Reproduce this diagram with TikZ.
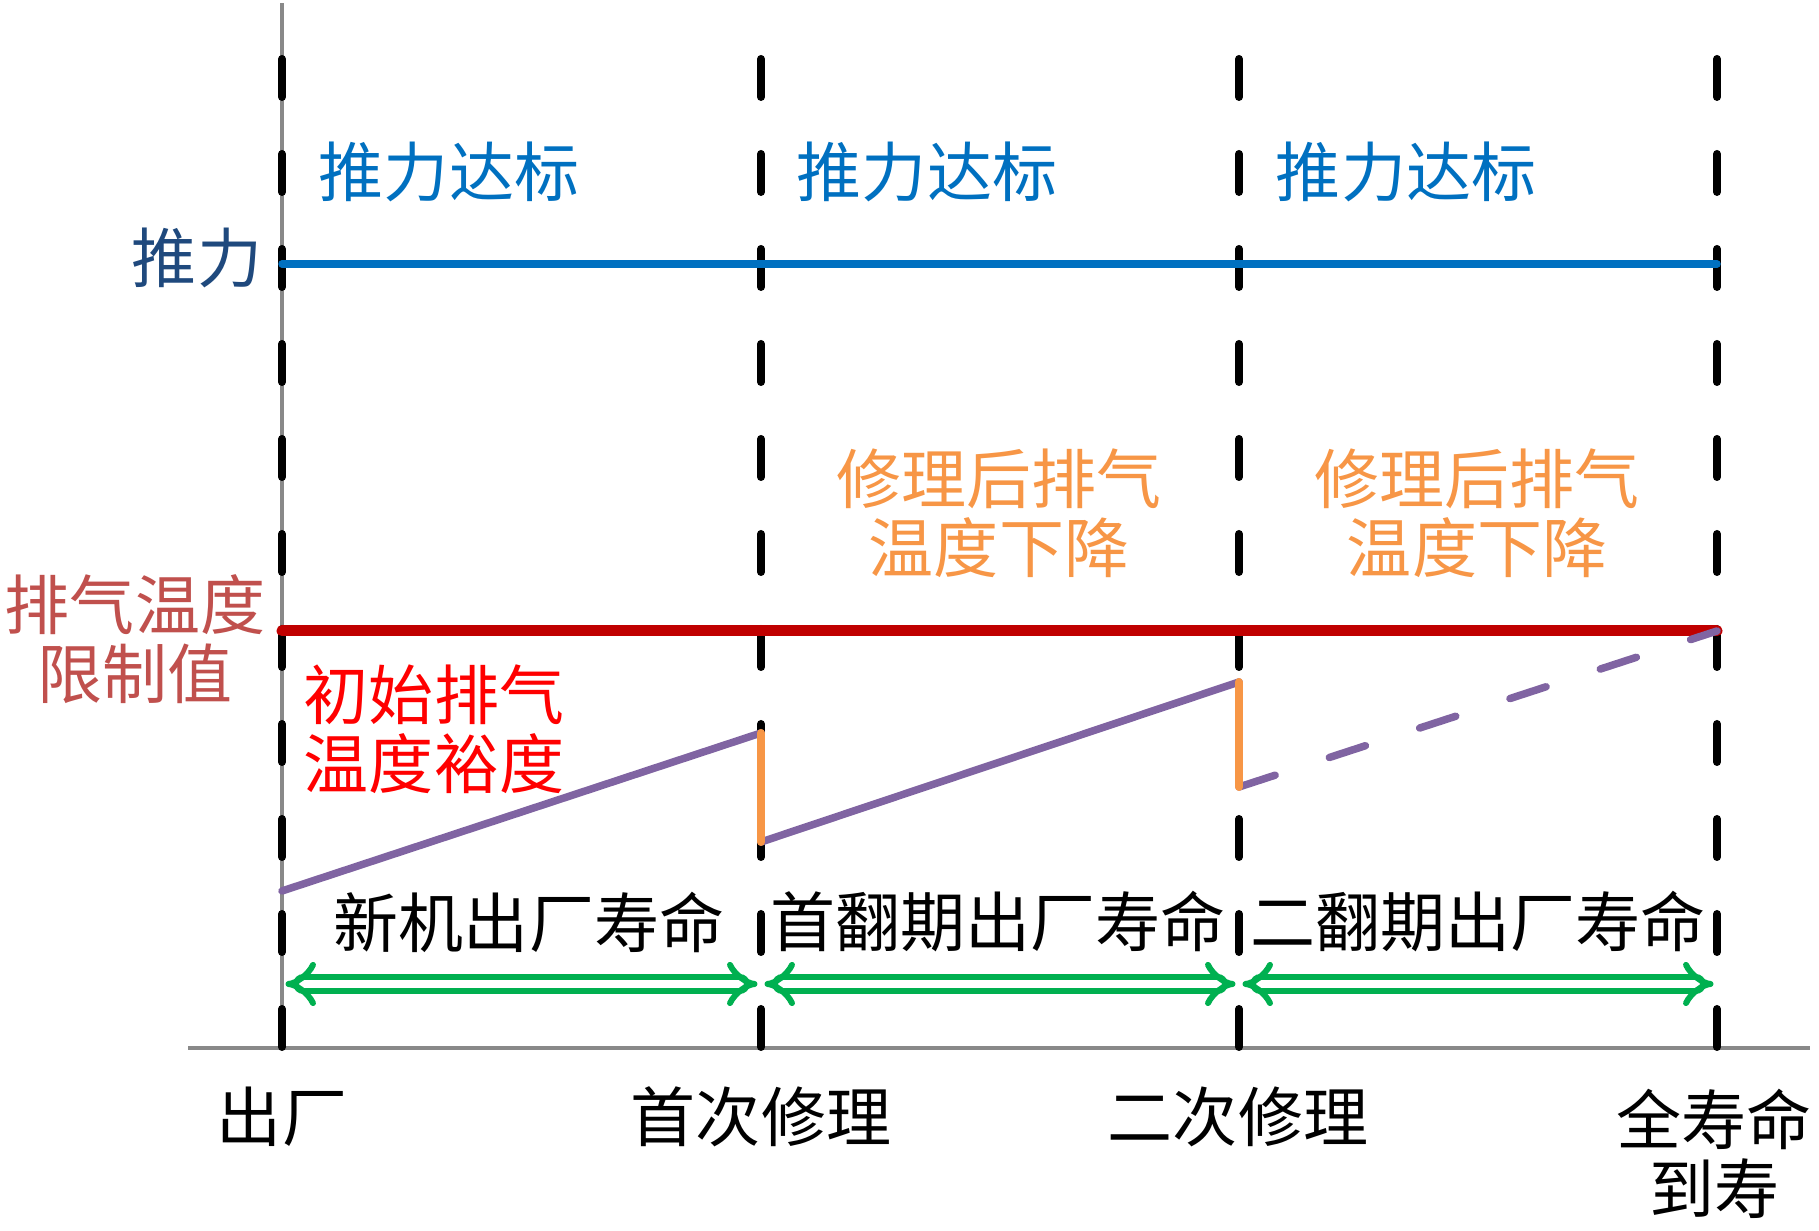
\documentclass[tikz,border=0pt]{standalone}
\usepackage{fontspec}
\newfontfamily\cjkfont{Noto Sans CJK SC}
\usetikzlibrary{arrows.meta}
\definecolor{axisgray}{RGB}{137,137,137}
\definecolor{thrustblue}{RGB}{0,112,192}
\definecolor{thrustdark}{RGB}{31,73,125}
\definecolor{limitred}{RGB}{192,0,0}
\definecolor{limittext}{RGB}{192,80,77}
\definecolor{egtpurple}{RGB}{128,100,162}
\definecolor{repairorange}{RGB}{247,150,70}
\definecolor{lifegreen}{RGB}{0,176,80}
\begin{document}
\begin{tikzpicture}[line cap=round,line join=round,>={Implies[scale=1.15]}]
			\tikzset{declare function={xa=2.82;xb=7.61;xc=12.39;xd=17.17;
					yaxis=1.83;ythr=9.67;ylim=6.00;ylife=2.47;
				},
				lab/.style={font=\cjkfont\fontsize{18.5}{19.5}\selectfont,inner sep=0pt,align=center},
				guide/.style={black,line width=0.08cm,dash pattern=on 0.38cm off 0.57cm},
				egt/.style={egtpurple,line width=0.075cm},
				drop/.style={repairorange,line width=0.08cm},
				life/.style={lifegreen,double,double distance=2.4pt,line width=1.7pt,<->,shorten >=1pt,shorten <=1pt}
			}
			\useasboundingbox (0,0) rectangle (18.19,12.31);
			% axes
			\draw[axisgray,line width=0.04cm,line cap=butt] (1.88,yaxis)--(18.10,yaxis);
			\draw[axisgray,line width=0.04cm,line cap=butt] (xa,yaxis)--(xa,12.28);
			\foreach \x in {xa,xb,xc,xd}
				\draw[guide] (\x,11.72)--(\x,yaxis);
			% thrust and limit
			\draw[thrustblue,line width=0.075cm] (xa,ythr)--(xd,ythr);
			\draw[limitred,line width=0.11cm] (xa,ylim)--(xd,ylim);
			% exhaust temperature
			\coordinate (p0) at (xa,3.40);
			\coordinate (p1) at (xb,4.98);
			\coordinate (p2) at (xb,3.89);
			\coordinate (p3) at (xc,5.49);
			\coordinate (p4) at (xc,4.44);
			\coordinate (p5) at (xd,ylim);
			\draw[egt] (p0)--(p1);
			\draw[egt] (p2)--(p3);
			\draw[egt,dash pattern=on 0.38cm off 0.57cm] (p4)--(p5);
			\draw[drop] (p1)--(p2);
			\draw[drop] (p3)--(p4);
			% life spans
			\coordinate (l0) at (xa,ylife);
			\coordinate (l1) at (xb,ylife);
			\coordinate (l2) at (xc,ylife);
			\coordinate (l3) at (xd,ylife);
			\draw[life] (l0)--(l1);
			\draw[life] (l1)--(l2);
			\draw[life] (l2)--(l3);
			% labels
			\node[lab,thrustblue] (thrA) at (4.49,10.59) {推力达标};
			\node[lab,thrustblue] (thrB) at (9.27,10.59) {推力达标};
			\node[lab,thrustblue] (thrC) at (14.06,10.59) {推力达标};
			\node[lab,thrustdark] (thr) at (1.97,9.73) {推力};
			\node[lab,limittext] (lim) at (1.35,5.92) {排气温度\\限制值};
			\node[lab,red] (margin) at (4.34,5.02) {初始排气\\温度裕度};
			\node[lab,repairorange] (dropA) at (9.99,7.18) {修理后排气\\温度下降};
			\node[lab,repairorange] (dropB) at (14.77,7.18) {修理后排气\\温度下降};
			\node[lab] (lifeA) at (5.29,3.09) {新机出厂寿命};
			\node[lab] (lifeB) at (9.98,3.09) {首翻期出厂寿命};
			\node[lab] (lifeC) at (14.78,3.09) {二翻期出厂寿命};
			\node[lab] (t0) at (2.82,1.14) {出厂};
			\node[lab] (t1) at (7.61,1.14) {首次修理};
			\node[lab] (t2) at (12.38,1.14) {二次修理};
			\node[lab] (t3) at (17.14,0.77) {全寿命\\到寿};
	\end{tikzpicture}
\end{document}
